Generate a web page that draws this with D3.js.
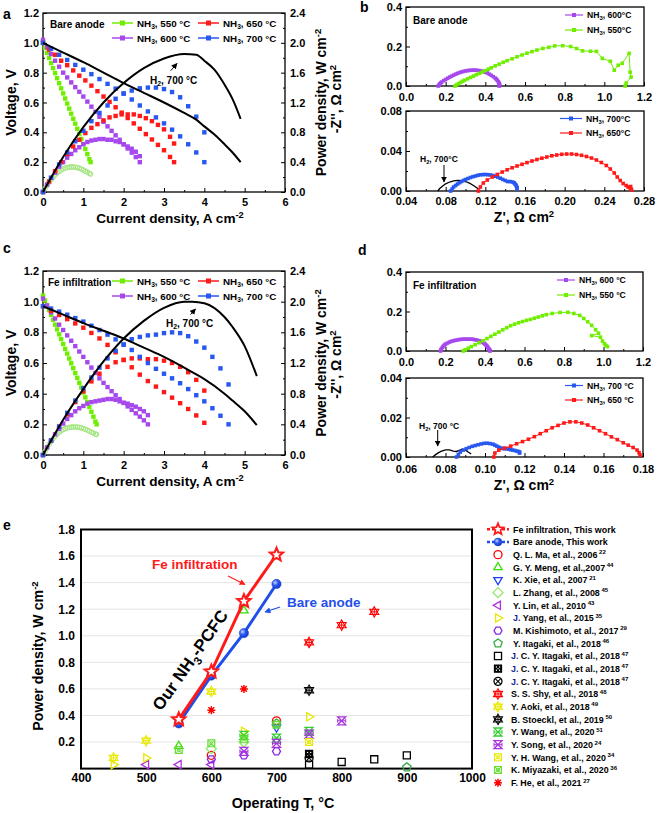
<!DOCTYPE html>
<html><head><meta charset="utf-8">
<script src="https://cdn.jsdelivr.net/npm/d3@7"></script>
<style>
body{margin:0;background:#fff;}
svg{font-family:"Liberation Sans",Arial,Helvetica,sans-serif;font-weight:bold;}
</style></head><body>
<script>
// ================= DATA =================
// Panel a (bare anode): current density (A cm-2), voltage (V), power density (W cm-2)
const a_I700 = [0,0.2,0.4,0.6,0.8,1.0,1.2,1.4,1.6,1.8,2.0,2.2,2.4,2.6,2.8,3.0,3.2,3.4,3.6,3.8,4.0];
const a_V700 = [1.0,0.96,0.92,0.885,0.852,0.82,0.79,0.757,0.725,0.693,0.66,0.62,0.58,0.54,0.5,0.46,0.418,0.373,0.32,0.265,0.2];
const a_P700 = [0,0.19,0.37,0.53,0.68,0.82,0.95,1.06,1.16,1.25,1.32,1.36,1.39,1.40,1.40,1.38,1.34,1.27,1.15,1.01,0.80];
const a_I650 = [0,0.15,0.3,0.45,0.6,0.75,0.9,1.05,1.2,1.35,1.5,1.65,1.8,1.95,2.1,2.25,2.4,2.55,2.7,2.85,3.0,3.15,3.25];
const a_V650 = [1.0,0.955,0.92,0.88,0.85,0.815,0.78,0.748,0.713,0.676,0.64,0.604,0.568,0.532,0.496,0.46,0.424,0.388,0.352,0.316,0.28,0.235,0.2];
const a_P650 = [0,0.14,0.28,0.40,0.51,0.61,0.70,0.79,0.86,0.91,0.96,1.00,1.02,1.04,1.04,1.04,1.02,0.99,0.95,0.90,0.84,0.74,0.65];
const a_I600 = [0,0.1,0.2,0.3,0.4,0.5,0.6,0.7,0.8,0.9,1.0,1.1,1.2,1.3,1.4,1.5,1.6,1.7,1.8,1.9,2.0,2.1,2.2,2.3,2.4];
const a_V600 = [1.02,0.97,0.925,0.88,0.84,0.80,0.768,0.735,0.703,0.672,0.64,0.606,0.572,0.538,0.504,0.47,0.44,0.41,0.38,0.35,0.32,0.292,0.264,0.234,0.2];
const a_P600 = [0,0.10,0.19,0.26,0.34,0.40,0.46,0.51,0.56,0.60,0.64,0.67,0.69,0.70,0.71,0.71,0.70,0.70,0.68,0.67,0.64,0.61,0.58,0.54,0.48];
const a_I550 = [0,0.05,0.1,0.15,0.2,0.25,0.3,0.35,0.4,0.45,0.5,0.55,0.6,0.65,0.7,0.75,0.8,0.85,0.9,0.95,1.0,1.05,1.1,1.15,1.18];
const a_V550 = [1.0,0.966,0.932,0.898,0.864,0.83,0.797,0.763,0.729,0.695,0.661,0.627,0.593,0.559,0.525,0.491,0.458,0.424,0.39,0.356,0.322,0.288,0.254,0.22,0.2];
const a_P550 = [0,0.045,0.088,0.128,0.165,0.198,0.228,0.254,0.276,0.295,0.31,0.321,0.329,0.334,0.336,0.336,0.333,0.327,0.319,0.308,0.295,0.28,0.265,0.25,0.24];
const a_IH2 = [0,0.5,1,1.5,2,2.5,3,3.5,3.8,4,4.25,4.5,4.7,4.9];
const a_VH2 = [1.0,0.935,0.87,0.8,0.73,0.665,0.6,0.53,0.485,0.44,0.385,0.32,0.265,0.2];
const a_PH2 = [0,0.47,0.87,1.2,1.46,1.66,1.79,1.85,1.84,1.76,1.64,1.44,1.245,0.98];

// Panel c (Fe infiltration)
const c_I700 = [0,0.2,0.4,0.6,0.8,1.0,1.2,1.4,1.6,1.8,2.0,2.2,2.4,2.6,2.8,3.0,3.2,3.4,3.6,3.8,4.0,4.2,4.4,4.6];
const c_V700 = [0.97,0.955,0.935,0.915,0.893,0.87,0.843,0.815,0.785,0.754,0.72,0.685,0.64,0.6,0.562,0.53,0.5,0.468,0.43,0.39,0.35,0.305,0.256,0.2];
const c_P700 = [0,0.19,0.37,0.55,0.71,0.87,1.01,1.14,1.26,1.36,1.44,1.51,1.54,1.56,1.57,1.59,1.60,1.59,1.55,1.48,1.40,1.28,1.13,0.92];
const c_I650 = [0,0.2,0.4,0.6,0.8,1.0,1.2,1.4,1.6,1.8,2.0,2.2,2.4,2.6,2.8,3.0,3.2,3.4,3.6,3.8,4.0];
const c_V650 = [0.97,0.94,0.913,0.886,0.858,0.83,0.796,0.76,0.718,0.67,0.62,0.572,0.524,0.482,0.446,0.41,0.374,0.338,0.3,0.258,0.21];
const c_P650 = [0,0.19,0.37,0.53,0.69,0.83,0.96,1.06,1.15,1.21,1.24,1.26,1.26,1.25,1.25,1.23,1.20,1.15,1.08,0.98,0.84];
const c_I600 = [0,0.1,0.2,0.3,0.4,0.5,0.6,0.7,0.8,0.9,1.0,1.1,1.2,1.3,1.4,1.5,1.6,1.7,1.8,1.9,2.0,2.1,2.2,2.3,2.4,2.5,2.6];
const c_V600 = [1.02,0.975,0.93,0.89,0.85,0.815,0.78,0.745,0.71,0.675,0.64,0.605,0.57,0.535,0.5,0.47,0.443,0.416,0.39,0.365,0.34,0.317,0.294,0.272,0.25,0.226,0.2];
const c_P600 = [0,0.10,0.19,0.27,0.34,0.41,0.47,0.52,0.57,0.61,0.64,0.67,0.69,0.70,0.71,0.72,0.73,0.73,0.72,0.70,0.68,0.67,0.65,0.63,0.60,0.57,0.52];
const c_I550 = [0,0.05,0.1,0.15,0.2,0.25,0.3,0.35,0.4,0.45,0.5,0.55,0.6,0.65,0.7,0.75,0.8,0.85,0.9,0.95,1.0,1.05,1.1,1.15,1.2,1.25,1.3,1.33];
const c_V550 = [1.04,1.008,0.977,0.945,0.914,0.882,0.85,0.819,0.787,0.756,0.724,0.692,0.661,0.629,0.598,0.566,0.534,0.503,0.471,0.44,0.408,0.376,0.345,0.313,0.282,0.25,0.218,0.2];
const c_P550 = [0,0.048,0.094,0.137,0.176,0.212,0.244,0.272,0.296,0.316,0.332,0.345,0.354,0.36,0.364,0.366,0.366,0.364,0.36,0.354,0.346,0.336,0.324,0.311,0.298,0.286,0.274,0.268];
const c_IH2 = [0,0.5,1,1.5,2,2.5,3,3.5,3.7,4,4.5,4.7,5,5.3];
const c_VH2 = [0.97,0.915,0.86,0.81,0.76,0.70,0.64,0.57,0.54,0.495,0.4,0.355,0.285,0.195];
const c_PH2 = [0,0.46,0.86,1.22,1.52,1.75,1.92,2.0,2.0,1.98,1.8,1.67,1.42,1.03];

// Panel b (bare anode impedance): [Z', -Z'']
const b_N600 = [[0.163,0],[0.166,0.005],[0.17,0.01],[0.175,0.015],[0.18,0.02],[0.19,0.027],[0.2,0.033],[0.21,0.039],[0.22,0.045],[0.23,0.05],[0.24,0.055],[0.25,0.06],[0.26,0.064],[0.27,0.068],[0.28,0.071],[0.29,0.074],[0.30,0.076],[0.31,0.078],[0.32,0.079],[0.33,0.08],[0.34,0.08],[0.35,0.08],[0.36,0.079],[0.37,0.078],[0.38,0.076],[0.39,0.073],[0.40,0.07],[0.41,0.066],[0.42,0.06],[0.43,0.054],[0.44,0.047],[0.45,0.04],[0.455,0.035],[0.46,0.029],[0.465,0.022],[0.468,0.017],[0.47,0.012],[0.472,0.007],[0.472,0.003],[0.47,0]];
const b_N550 = [[0.247,0],[0.255,0.006],[0.265,0.012],[0.275,0.018],[0.285,0.024],[0.295,0.029],[0.31,0.036],[0.325,0.043],[0.34,0.05],[0.355,0.057],[0.37,0.064],[0.385,0.071],[0.40,0.078],[0.415,0.085],[0.43,0.092],[0.45,0.102],[0.47,0.111],[0.49,0.12],[0.51,0.128],[0.535,0.138],[0.56,0.148],[0.585,0.157],[0.61,0.166],[0.635,0.174],[0.66,0.182],[0.69,0.19],[0.72,0.196],[0.75,0.203],[0.79,0.204],[0.83,0.2],[0.86,0.19],[0.89,0.178],[0.93,0.176],[0.96,0.175],[0.99,0.14],[1.03,0.125],[1.05,0.08],[1.07,0.105],[1.09,0.115],[1.125,0.165],[1.13,0.07],[1.135,0.045],[1.11,0.015],[1.105,0.0]];
const b_N700 = [[0.085,0],[0.0865,0.002],[0.088,0.004],[0.09,0.0055],[0.092,0.007],[0.094,0.0083],[0.096,0.0095],[0.098,0.0105],[0.1,0.0115],[0.1025,0.0125],[0.105,0.0135],[0.1075,0.0143],[0.11,0.015],[0.1125,0.0157],[0.115,0.0162],[0.1175,0.0164],[0.12,0.0165],[0.1225,0.0163],[0.125,0.016],[0.1275,0.0155],[0.13,0.0148],[0.1325,0.0139],[0.135,0.0128],[0.1375,0.0116],[0.14,0.0105],[0.1425,0.0095],[0.145,0.0094],[0.1475,0.009],[0.149,0.0082],[0.15,0.007],[0.151,0.0058],[0.1515,0.0045],[0.152,0.0032],[0.152,0.002]];
const b_N650 = [[0.113,0],[0.115,0.004],[0.118,0.008],[0.122,0.011],[0.127,0.014],[0.132,0.0165],[0.137,0.019],[0.142,0.0212],[0.147,0.0232],[0.152,0.025],[0.157,0.0267],[0.162,0.0284],[0.167,0.03],[0.172,0.0315],[0.177,0.0328],[0.182,0.034],[0.187,0.0352],[0.192,0.036],[0.197,0.0367],[0.202,0.037],[0.207,0.037],[0.212,0.0365],[0.217,0.0357],[0.222,0.0345],[0.227,0.033],[0.232,0.031],[0.237,0.0285],[0.242,0.0255],[0.246,0.022],[0.25,0.018],[0.253,0.014],[0.256,0.0105],[0.259,0.0075],[0.262,0.0055],[0.264,0.004],[0.266,0.003],[0.2665,0.0045],[0.267,0.002],[0.2675,0.001]];
const b_H2 = [[0.072,0],[0.074,0.0025],[0.077,0.005],[0.08,0.0072],[0.084,0.009],[0.088,0.0101],[0.092,0.0106],[0.096,0.0104],[0.1,0.0095],[0.104,0.0078],[0.108,0.0055],[0.111,0.0035],[0.113,0.002]];

// Panel d (Fe infiltration impedance)
const d_N600 = [[0.175,0],[0.177,0.006],[0.18,0.012],[0.185,0.019],[0.19,0.025],[0.195,0.03],[0.2,0.035],[0.21,0.04],[0.22,0.045],[0.23,0.049],[0.24,0.052],[0.25,0.054],[0.26,0.056],[0.27,0.058],[0.28,0.059],[0.29,0.06],[0.3,0.06],[0.31,0.06],[0.32,0.06],[0.33,0.06],[0.34,0.059],[0.35,0.057],[0.36,0.055],[0.37,0.052],[0.38,0.048],[0.39,0.043],[0.395,0.04],[0.4,0.035],[0.405,0.03],[0.41,0.025],[0.413,0.02],[0.417,0.015],[0.42,0.01],[0.423,0.006],[0.425,0.003],[0.425,0]];
const d_N550 = [[0.29,0],[0.3,0.006],[0.315,0.014],[0.33,0.022],[0.35,0.032],[0.37,0.042],[0.39,0.052],[0.41,0.063],[0.43,0.074],[0.45,0.085],[0.47,0.096],[0.49,0.107],[0.51,0.118],[0.53,0.128],[0.55,0.136],[0.57,0.143],[0.59,0.149],[0.61,0.155],[0.63,0.16],[0.65,0.166],[0.67,0.172],[0.69,0.178],[0.71,0.184],[0.74,0.19],[0.78,0.195],[0.82,0.196],[0.85,0.19],[0.88,0.18],[0.9,0.165],[0.92,0.148],[0.94,0.13],[0.96,0.108],[0.975,0.09],[0.94,0.078],[0.985,0.07],[0.995,0.05],[1.005,0.037],[1.012,0.028],[1.02,0.022]];
const d_N700 = [[0.0856,0],[0.0865,0.0013],[0.0875,0.0025],[0.089,0.0035],[0.0905,0.0042],[0.092,0.0048],[0.0935,0.0054],[0.095,0.0058],[0.0965,0.0062],[0.098,0.0066],[0.0995,0.0069],[0.101,0.007],[0.1025,0.0068],[0.104,0.0065],[0.105,0.006],[0.106,0.0055],[0.107,0.005],[0.108,0.0045],[0.109,0.0043],[0.11,0.0042],[0.111,0.0042],[0.112,0.004],[0.113,0.0037],[0.114,0.0035],[0.115,0.0033],[0.116,0.003],[0.117,0.0028],[0.1175,0.0025],[0.1175,0.002]];
const d_N650 = [[0.1045,0],[0.105,0.002],[0.107,0.0035],[0.11,0.0045],[0.113,0.0055],[0.116,0.0067],[0.119,0.0078],[0.122,0.009],[0.125,0.0103],[0.128,0.0118],[0.131,0.0133],[0.134,0.0148],[0.137,0.016],[0.14,0.0172],[0.143,0.0178],[0.146,0.0178],[0.149,0.0172],[0.152,0.0162],[0.155,0.0148],[0.158,0.0133],[0.161,0.0118],[0.164,0.0102],[0.167,0.0088],[0.17,0.0072],[0.1725,0.006],[0.175,0.0048],[0.177,0.0035],[0.178,0.0022],[0.1785,0.001]];
const d_H2 = [[0.0735,0],[0.075,0.0012],[0.0765,0.0022],[0.078,0.003],[0.08,0.0036],[0.082,0.0036],[0.084,0.003],[0.0855,0.0028],[0.087,0.0034],[0.0885,0.004],[0.09,0.0036],[0.0915,0.0025],[0.093,0.0015]];

// Panel e: [T (°C), peak power density (W cm-2)]
const e_FeInf = [[550,0.37],[600,0.73],[650,1.26],[700,1.61]];
const e_Bare = [[550,0.34],[600,0.70],[650,1.02],[700,1.39]];
const e_Ma = [[600,0.10],[700,0.36]];
const e_Meng = [[550,0.17],[650,1.19]];
const e_Xie = [[700,0.31]];
const e_Zhang = [[600,0.15],[650,0.20]];
const e_Lin = [[500,0.03],[550,0.03],[600,0.03]];
const e_Yang = [[450,0.03],[500,0.08],[650,0.28],[750,0.39]];
const e_Kishimoto = [[600,0.07],[650,0.10],[700,0.13]];
const e_Itagaki46 = [[700,0.34],[900,0.01]];
const e_Itagaki47a = [[750,0.03],[800,0.05],[850,0.07],[900,0.10]];
const e_Itagaki47b = [[750,0.11]];
const e_Itagaki47c = [[750,0.08]];
const e_Shy = [[750,0.95],[800,1.08],[850,1.18]];
const e_Aoki = [[450,0.08],[500,0.21],[600,0.58]];
const e_Stoeckl = [[750,0.59]];
const e_WangY = [[650,0.25],[700,0.23],[750,0.28]];
const e_Song = [[650,0.13],[700,0.19],[750,0.26],[800,0.36]];
const e_WangYH = [[750,0.20]];
const e_Miyazaki = [[550,0.14],[600,0.19],[650,0.22],[700,0.33]];
const e_He = [[600,0.44],[650,0.60]];
const e_labels = ["Fe infiltration, This work","Bare anode, This work","Q. L. Ma, et al., 2006","G. Y. Meng, et al.,2007","K. Xie, et al., 2007","L. Zhang, et al., 2008","Y. Lin, et al., 2010","J. Yang, et al., 2015","M. Kishimoto, et al., 2017","Y. Itagaki, et al., 2018","J. C. Y. Itagaki, et al., 2018","J. C. Y. Itagaki, et al., 2018","J. C. Y. Itagaki, et al., 2018","S. S. Shy, et al., 2018","Y. Aoki, et al., 2018","B. Stoeckl, et al., 2019","Y. Wang, et al., 2020","Y. Song, et al., 2020","Y. H. Wang, et al., 2020","K. Miyazaki, et al., 2020","F. He, et al., 2021"];
const e_refs = ["","","22","44","21","45","43","35","29","46","47","47","47","48","49","50","51","24","34","36","27"];

// ticks
const ivXTicks=[0,1,2,3,4,5,6], ivVTicks=[0,0.2,0.4,0.6,0.8,1.0,1.2], ivPTicks=[0,0.4,0.8,1.2,1.6,2.0,2.4];
const eXTicks=[400,500,600,700,800,900,1000], eYTicks=[0.2,0.4,0.6,0.8,1.0,1.2,1.4,1.6,1.8];

// ================= DRAWING =================
const C={g:'#70ee00',go:'#9fe57a',p:'#a648ee',r:'#ff1a1a',b:'#2858f0',k:'#000'};
const svg=d3.select('body').append('svg').attr('width',658).attr('height',813);
const defs=svg.append('defs');
function arrowDef(id,col){
  defs.append('marker').attr('id',id).attr('viewBox','0 0 10 10').attr('refX',9).attr('refY',5)
   .attr('markerWidth',6).attr('markerHeight',6).attr('markerUnits','userSpaceOnUse').attr('orient','auto')
   .append('path').attr('d','M0,0 L10,5 L0,10 Z').attr('fill',col);
}
arrowDef('ak','#000');arrowDef('ar','#ff1a1a');arrowDef('ab','#1f4fe8');
const rg=defs.append('radialGradient').attr('id','bball').attr('cx','0.35').attr('cy','0.35').attr('r','0.7');
rg.append('stop').attr('offset','0').attr('stop-color','#c8d4ff');
rg.append('stop').attr('offset','0.45').attr('stop-color','#2e5cf0');
rg.append('stop').attr('offset','1').attr('stop-color','#1035c0');

function rich(parent,parts,fs,o){
  const t=parent.append('text').attr('font-size',fs).attr('text-anchor',o.anchor||'start').attr('fill',o.fill||'#000');
  if(o.rotate!=null) t.attr('transform',`translate(${o.x},${o.y}) rotate(${o.rotate})`).attr('y',o.by||0);
  else t.attr('x',o.x).attr('y',o.y);
  let shift=0;
  parts.forEach(p=>{
    const [s,k,c]=typeof p==='string'?[p,'n']:p;
    const target=k==='sub'?fs*0.28:k==='sup'?-fs*0.38:0;
    const ts=t.append('tspan').text(s);
    if(target-shift!==0) ts.attr('dy',target-shift);
    if(k==='sub'||k==='sup') ts.attr('font-size',fs*0.68);
    if(c) ts.attr('fill',c);
    shift=target;
  });
  return t;
}
function styleAxis(s,fs){
  s.select('.domain').remove();
  s.attr('font-family',null).attr('font-size',null);
  s.selectAll('text').attr('font-size',fs).attr('fill','#000');
  s.selectAll('line').attr('stroke','#000').attr('stroke-width',1);
}
function axes(g,x,y,o){
  const [x0,x1]=x.range(),[y0,y1]=y.range();
  const ts=o.tick==null?4:o.tick;
  g.append('g').attr('transform',`translate(0,${y0})`)
    .call(d3.axisBottom(x).tickValues(o.xt).tickFormat(o.xf).tickSizeInner(-ts).tickSizeOuter(0).tickPadding(o.xp))
    .call(s=>styleAxis(s,o.fs));
  g.append('g').attr('transform',`translate(${x0},0)`)
    .call(d3.axisLeft(y).tickValues(o.yt).tickFormat(o.yf).tickSizeInner(-ts).tickSizeOuter(0).tickPadding(o.yp))
    .call(s=>styleAxis(s,o.fs));
  if(o.xm) g.append('g').attr('transform',`translate(0,${y0})`)
    .call(d3.axisBottom(x).tickValues(o.xm).tickFormat(()=>'').tickSizeInner(-2).tickSizeOuter(0)).call(s=>styleAxis(s,o.fs));
  if(o.ym) g.append('g').attr('transform',`translate(${x0},0)`)
    .call(d3.axisLeft(y).tickValues(o.ym).tickFormat(()=>'').tickSizeInner(-2).tickSizeOuter(0)).call(s=>styleAxis(s,o.fs));
  g.append('rect').attr('x',x0).attr('y',y1).attr('width',x1-x0).attr('height',y0-y1)
    .attr('fill','none').attr('stroke','#000').attr('stroke-width',o.fw||1.3);
}
const fmt1=d3.format('.1f'),fmt2=d3.format('.2f'),fmt0=d3.format('d');

// ---------- panels a / c ----------
function ivPanel(P){
  const g=svg.append('g');
  const x=d3.scaleLinear([0,6],[43,285]);
  const yV=d3.scaleLinear([0,1.2],[P.bottom,P.top]);
  const yP=d3.scaleLinear([0,2.4],[P.bottom,P.top]);
  axes(g,x,yV,{xt:ivXTicks,xf:fmt0,xp:6,yt:ivVTicks,yf:fmt1,yp:4,fs:11,
    xm:[0.5,1.5,2.5,3.5,4.5,5.5],ym:[0.1,0.3,0.5,0.7,0.9,1.1]});
  g.append('g').attr('transform',`translate(285,0)`)
    .call(d3.axisRight(yP).tickValues(ivPTicks).tickFormat(fmt1).tickSizeInner(-4).tickSizeOuter(0).tickPadding(5))
    .call(s=>styleAxis(s,11));
  g.append('g').attr('transform',`translate(285,0)`)
    .call(d3.axisRight(yP).tickValues([0.2,0.6,1.0,1.4,1.8,2.2]).tickFormat(()=>'').tickSizeInner(-2).tickSizeOuter(0))
    .call(s=>styleAxis(s,11));
  const sq=4.4;
  P.series.forEach(s=>{
    const V=s.I.map((i,k)=>[i,s.V[k]]), W=s.I.map((i,k)=>[i,s.P[k]]);
    if(s.hollow){
      g.append('g').selectAll('circle').data(W).join('circle').attr('cx',d=>x(d[0])).attr('cy',d=>yP(d[1])).attr('r',2.3)
        .attr('fill','none').attr('stroke',C.go).attr('stroke-width',1);
    } else {
      g.append('g').selectAll('rect').data(W).join('rect').attr('x',d=>x(d[0])-sq/2).attr('y',d=>yP(d[1])-sq/2)
        .attr('width',sq).attr('height',sq).attr('fill',s.col);
    }
    g.append('g').selectAll('rect').data(V).join('rect').attr('x',d=>x(d[0])-sq/2).attr('y',d=>yV(d[1])-sq/2)
      .attr('width',sq).attr('height',sq).attr('fill',s.col);
  });
  const lV=d3.line().x(d=>x(d[0])).y(d=>yV(d[1])).curve(d3.curveMonotoneX);
  const lP=d3.line().x(d=>x(d[0])).y(d=>yP(d[1])).curve(d3.curveMonotoneX);
  g.append('path').attr('d',lV(P.h2I.map((i,k)=>[i,P.h2V[k]]))).attr('fill','none').attr('stroke','#000').attr('stroke-width',2);
  g.append('path').attr('d',lP(P.h2I.map((i,k)=>[i,P.h2P[k]]))).attr('fill','none').attr('stroke','#000').attr('stroke-width',2);
  // legend
  const leg=[[C.g,'550',0,0],[C.p,'600',0,1],[C.r,'650',1,0],[C.b,'700',1,1]];
  leg.forEach(([col,t,cx,ry])=>{
    const yy=P.legY+ry*15, x0=cx?198:112;
    g.append('line').attr('x1',x0).attr('x2',x0+21).attr('y1',yy).attr('y2',yy).attr('stroke',col).attr('stroke-width',1.5);
    g.append('rect').attr('x',x0+10.5-2.5).attr('y',yy-2.5).attr('width',5).attr('height',5).attr('fill',col);
    rich(g,['NH',['3','sub'],`, ${t} °C`],9.8,{x:x0+25,y:yy+3.5});
  });
  g.append('text').attr('x',P.titleX).attr('y',P.legY+4.5).attr('font-size',10).text(P.title);
  // H2 annotation
  rich(g,['H',['2','sub'],', 700 °C'],10,{x:P.h2x,y:P.h2y});
  g.append('line').attr('x1',P.ar[0]).attr('y1',P.ar[1]).attr('x2',P.ar[2]).attr('y2',P.ar[3])
    .attr('stroke','#000').attr('stroke-width',1).attr('marker-end','url(#ak)');
  // titles
  const mid=(P.top+P.bottom)/2;
  g.append('text').attr('font-size',14).attr('text-anchor','middle')
    .attr('transform',`translate(${11+5},${mid}) rotate(-90)`).text('Voltage, V');
  rich(g,['Power density, W cm',['-2','sup']],14,{x:321+5,y:mid,rotate:-90,anchor:'middle'});
  rich(g,['Current density, A cm',['-2','sup']],13.6,{x:170,y:P.bottom+31,anchor:'middle'});
  g.append('text').attr('x',3).attr('y',P.lab).attr('font-size',14).text(P.letter);
}
ivPanel({top:13,bottom:192,letter:'a',lab:19,title:'Bare anode',titleX:50,legY:23,
  h2x:150,h2y:83.5,ar:[170.7,70.7,177,63.5],
  series:[{I:a_I550,V:a_V550,P:a_P550,col:C.g,hollow:true},{I:a_I600,V:a_V600,P:a_P600,col:C.p},
          {I:a_I650,V:a_V650,P:a_P650,col:C.r},{I:a_I700,V:a_V700,P:a_P700,col:C.b}],
  h2I:a_IH2,h2V:a_VH2,h2P:a_PH2});
ivPanel({top:271,bottom:455,letter:'c',lab:253,title:'Fe infiltration',titleX:48,legY:281,
  h2x:166,h2y:326.5,ar:[190.5,314.5,195.5,309],
  series:[{I:c_I550,V:c_V550,P:c_P550,col:C.g,hollow:true},{I:c_I600,V:c_V600,P:c_P600,col:C.p},
          {I:c_I650,V:c_V650,P:c_P650,col:C.r},{I:c_I700,V:c_V700,P:c_P700,col:C.b}],
  h2I:c_IH2,h2V:c_VH2,h2P:c_PH2});

// ---------- panels b / d ----------
function nyq(g,x,y,data,col,mk){
  const ln=d3.line().x(d=>x(d[0])).y(d=>y(d[1]));
  g.append('path').attr('d',ln(data)).attr('fill','none').attr('stroke',col).attr('stroke-width',mk?1:1.3);
  if(mk) g.append('g').selectAll('rect').data(data).join('rect').attr('x',d=>x(d[0])-1.8).attr('y',d=>y(d[1])-1.8)
    .attr('width',3.6).attr('height',3.6).attr('fill',col);
}
function legRow(g,x0,len,yy,col,parts,fs){
  g.append('line').attr('x1',x0).attr('x2',x0+len).attr('y1',yy).attr('y2',yy).attr('stroke',col).attr('stroke-width',1.2);
  g.append('rect').attr('x',x0+len/2-2).attr('y',yy-2).attr('width',4).attr('height',4).attr('fill',col);
  rich(g,parts,fs,{x:x0+len+4,y:yy+3});
}
function eisPanel(P){
  const g=svg.append('g');
  const x1=d3.scaleLinear([0,1.2],[406,P.right]), y1=d3.scaleLinear([0,0.4],[P.t1b,P.t1t]);
  axes(g,x1,y1,{xt:[0,0.2,0.4,0.6,0.8,1.0,1.2],xf:fmt1,xp:7,yt:[0,0.2,0.4],yf:fmt1,yp:4,fs:11,
    xm:[0.1,0.3,0.5,0.7,0.9,1.1],ym:[0.1,0.3]});
  const x2=d3.scaleLinear(P.x2d,[406,P.right]), y2=d3.scaleLinear([0,P.y2max],[P.t2b,P.t2t]);
  axes(g,x2,y2,{xt:P.x2t,xf:fmt2,xp:P.x2p,yt:P.y2t,yf:fmt2,yp:4,fs:11,xm:P.x2m,ym:P.y2m});
  nyq(g,x1,y1,P.n600,C.p,true); nyq(g,x1,y1,P.n550,C.g,true);
  nyq(g,x2,y2,P.h2,'#000',false); nyq(g,x2,y2,P.n700,C.b,true); nyq(g,x2,y2,P.n650,C.r,true);
  const sp=P.space?' ':'';
  legRow(g,P.l1x,18,P.t1t+8,C.p,['NH',['3','sub'],`, 600${sp}°C`],8.6);
  legRow(g,P.l1x,18,P.t1t+23,C.g,['NH',['3','sub'],`, 550${sp}°C`],8.6);
  legRow(g,P.l2x,P.l2len,P.t2t+7.5,C.b,['NH',['3','sub'],`, 700${sp}°C`],8.6);
  legRow(g,P.l2x,P.l2len,P.t2t+22,C.r,['NH',['3','sub'],`, 650${sp}°C`],8.6);
  g.append('text').attr('x',413).attr('y',P.t1t+16.5).attr('font-size',10).text(P.title);
  rich(g,['H',['2','sub'],`, 700${sp}°C`],8.5,{x:P.h2x,y:P.h2y});
  g.append('line').attr('x1',P.ar[0]).attr('y1',P.ar[1]).attr('x2',P.ar[0]).attr('y2',P.ar[2])
    .attr('stroke','#000').attr('stroke-width',1).attr('marker-end','url(#ak)');
  const mid=(P.t1t+P.t2b)/2;
  rich(g,["-Z'', Ω cm",['2','sup']],14,{x:336+5,y:mid,rotate:-90,anchor:'middle'});
  rich(g,["Z', Ω cm",['2','sup']],14,{x:524,y:P.xlab,anchor:'middle'});
  g.append('text').attr('x',P.lx).attr('y',P.ly).attr('font-size',14).text(P.letter);
}
eisPanel({letter:'b',lx:360,ly:12,right:644,t1t:7,t1b:86,t2t:111,t2b:191,x2d:[0.04,0.28],x2p:6,
  x2t:[0.04,0.08,0.12,0.16,0.20,0.24,0.28],x2m:[0.06,0.10,0.14,0.18,0.22,0.26],y2max:0.08,y2t:[0,0.04,0.08],y2m:[0.02,0.06],
  n600:b_N600,n550:b_N550,n700:b_N700,n650:b_N650,h2:b_H2,space:false,title:'Bare anode',
  l1x:565,l2x:560,l2len:22,h2x:420,h2y:162,ar:[444,165,182],xlab:222});
eisPanel({letter:'d',lx:358,ly:255,right:643,t1t:272,t1b:351,t2t:378,t2b:457,x2d:[0.06,0.18],x2p:8.5,
  x2t:[0.06,0.08,0.10,0.12,0.14,0.16,0.18],x2m:[0.07,0.09,0.11,0.13,0.15,0.17],y2max:0.04,y2t:[0,0.02,0.04],y2m:[0.01,0.03],
  n600:d_N600,n550:d_N550,n700:d_N700,n650:d_N650,h2:d_H2,space:true,title:'Fe infiltration',
  l1x:557,l2x:565,l2len:18,h2x:419,h2y:429,ar:[437.7,430,446],xlab:490});

// ---------- panel e ----------
function poly(n,r,rot){
  let s='';for(let k=0;k<n;k++){const a=(rot+k*360/n)*Math.PI/180;s+=(k?'L':'M')+(r*Math.cos(a)).toFixed(2)+','+(r*Math.sin(a)).toFixed(2);}return s+'Z';
}
function star(R,r){let s='';for(let k=0;k<10;k++){const a=(-90+k*36)*Math.PI/180,rr=k%2?r:R;s+=(k?'L':'M')+(rr*Math.cos(a)).toFixed(2)+','+(rr*Math.sin(a)).toFixed(2);}return s+'Z';}
const circ=r=>`M${r},0A${r},${r} 0 1 1 ${-r},0A${r},${r} 0 1 1 ${r},0Z`;
function drawMk(g,type,col,cx,cy){
  const m=g.append('g').attr('transform',`translate(${cx},${cy})`);
  const st=(d,w,f)=>m.append('path').attr('d',d).attr('fill',f||'none').attr('stroke',col).attr('stroke-width',w||1.3);
  const r=4;
  switch(type){
    case 'circle': st(circ(r)); break;
    case 'triUp': st(poly(3,r*1.2,-90)); break;
    case 'triDown': st(poly(3,r*1.2,90)); break;
    case 'triLeft': st(poly(3,r*1.2,180)); break;
    case 'triRight': st(poly(3,r*1.2,0)); break;
    case 'diamond': st(poly(4,r*1.25,-90)); break;
    case 'hex': st(poly(6,r,0)); break;
    case 'pent': st(poly(5,r*1.1,-90)); break;
    case 'square': st(poly(4,r*1.25,45)); break;
    case 'checkSq': st(poly(4,r*1.25,45),1.2,col); m.append('path').attr('d','M-1.6,-1.6h0.01M1.6,-1.6h0.01M-1.6,1.6h0.01M1.6,1.6h0.01M0,0h0.01')
        .attr('stroke','#fff').attr('stroke-width',1.4).attr('stroke-linecap','round'); break;
    case 'circX': st(circ(r)); st('M-2.8,-2.8L2.8,2.8M2.8,-2.8L-2.8,2.8',1.1); break;
    case 'hashStar': st(poly(3,r*1.3,-90),1.1); st(poly(3,r*1.3,90),1.1); st('M-3,0H3M0,-3V3',1); break;
    case 'hourX': st(`M${-r},${-r}L${r},${-r}L${-r},${r}L${r},${r}Z`,1.3); st(`M${-r},${-r*0.5}L${-r},${r*0.5}M${r},${-r*0.5}L${r},${r*0.5}M${-r},0H${r}`,1); break;
    case 'patSq': st(poly(4,r*1.2,45),1.2); st('M-3.4,-3.4L3.4,3.4M3.4,-3.4L-3.4,3.4',0.9); st(circ(1.6),0.9); break;
    case 'aster': st('M-4,0H4M0,-4V4M-2.9,-2.9L2.9,2.9M2.9,-2.9L-2.9,2.9',1.5); break;
    case 'star': st(star(7,3.1),2,'#fff'); break;
    case 'ball': m.append('circle').attr('r',4.6).attr('fill','url(#bball)').attr('stroke','#1a3fd0').attr('stroke-width',0.6); break;
  }
}
(function(){
  const g=svg.append('g');
  const x=d3.scaleLinear([400,1000],[81,472]), y=d3.scaleLinear([0,1.8],[768.6,529.5]);
  g.append('g').selectAll('line').data(eYTicks.slice(0,-1)).join('line').attr('x1',81).attr('x2',472)
    .attr('y1',d=>y(d)).attr('y2',d=>y(d)).attr('stroke','#e4e4e4').attr('stroke-width',1);
  axes(g,x,y,{xt:eXTicks,xf:fmt0,xp:5,yt:eYTicks,yf:fmt1,yp:6,fs:12,tick:0,fw:2});
  const lit=[
    [e_Ma,'circle','#ff0000'],[e_Meng,'triUp','#33dd00'],[e_Xie,'triDown','#1a3cff'],[e_Zhang,'diamond','#8fe86a'],
    [e_Lin,'triLeft','#b030e0'],[e_Yang,'triRight','#e8e800'],[e_Kishimoto,'hex','#8a2be2'],[e_Itagaki46,'pent','#33aa44'],
    [e_Itagaki47a,'square','#000'],[e_Itagaki47b,'checkSq','#000'],[e_Itagaki47c,'circX','#000'],[e_Shy,'hashStar','#ff0000'],
    [e_Aoki,'hashStar','#e8e800'],[e_Stoeckl,'hashStar','#000'],[e_WangY,'hourX','#33cc33'],[e_Song,'hourX','#a633dd'],
    [e_WangYH,'patSq','#e8e800'],[e_Miyazaki,'patSq','#66dd33'],[e_He,'aster','#ff0000']];
  lit.forEach(([data,type,col])=>data.forEach(d=>drawMk(g,type,col,x(d[0]),y(d[1]))));
  const ln=d3.line().x(d=>x(d[0])).y(d=>y(d[1]));
  g.append('path').attr('d',ln(e_Bare)).attr('fill','none').attr('stroke','#1f4fe8').attr('stroke-width',3);
  e_Bare.forEach(d=>drawMk(g,'ball','#1f4fe8',x(d[0]),y(d[1])));
  g.append('path').attr('d',ln(e_FeInf)).attr('fill','none').attr('stroke','#ff1a1a').attr('stroke-width',3);
  e_FeInf.forEach(d=>drawMk(g,'star','#ff1a1a',x(d[0]),y(d[1])));
  // annotations
  g.append('text').attr('x',152).attr('y',568.5).attr('font-size',13.5).attr('fill','#ff1a1a').text('Fe infiltration');
  g.append('line').attr('x1',228).attr('y1',576).attr('x2',245).attr('y2',584.5).attr('stroke','#ff1a1a').attr('stroke-width',1.2).attr('marker-end','url(#ar)');
  g.append('text').attr('x',287).attr('y',607).attr('font-size',13.5).attr('fill','#1f4fe8').text('Bare anode');
  g.append('line').attr('x1',280).attr('y1',607).attr('x2',265).attr('y2',612).attr('stroke','#1f4fe8').attr('stroke-width',1.2).attr('marker-end','url(#ab)');
  rich(g,['Our NH',['3','sub'],'-PCFC'],17,{x:190,y:660,rotate:-55,anchor:'middle',by:6});
  // titles
  rich(g,['Power density, W cm',['-2','sup']],14.2,{x:38+5,y:656,rotate:-90,anchor:'middle'});
  g.append('text').attr('x',283).attr('y',808).attr('font-size',14.3).attr('text-anchor','middle').text('Operating T, °C');
  g.append('text').attr('x',3).attr('y',530).attr('font-size',14).text('e');
  // legend
  const types=['star','ball',...lit.map(l=>l[1])], cols=['#ff1a1a','#1f4fe8',...lit.map(l=>l[2])];
  e_labels.forEach((lab,i)=>{
    const yy=529.3+i*12.67;
    if(i<2){
      g.append('line').attr('x1',487).attr('x2',509).attr('y1',yy).attr('y2',yy).attr('stroke',cols[i])
        .attr('stroke-width',2.4).attr('stroke-dasharray','3,2');
    }
    const lg=g.append('g').attr('transform',`translate(${498},${yy}) scale(${i<2?0.85:1})`);
    drawMk(lg,types[i],cols[i],0,0);
    const parts=[];
    if(lab.startsWith('J.')){parts.push(['J.','n','#1a1a8c']);parts.push(lab.slice(2));} else parts.push(lab);
    if(e_refs[i]) parts.push([' '+e_refs[i],'sup']);
    rich(g,parts,8.9,{x:i<10?513:511,y:yy+3.2});
  });
})();
</script>
</body></html>
